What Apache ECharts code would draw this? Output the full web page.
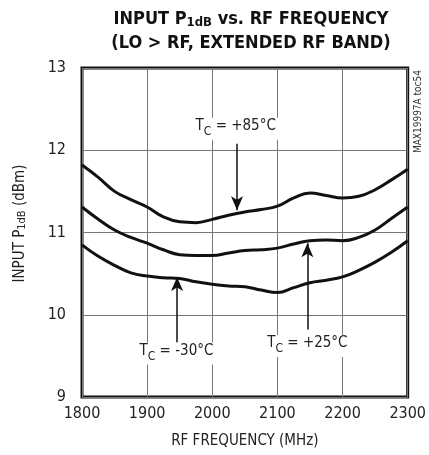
<!DOCTYPE html>
<html>
<head>
<meta charset="utf-8">
<script src="https://cdn.jsdelivr.net/npm/echarts@6/dist/echarts.min.js"></script>
<style>
  html, body { margin: 0; padding: 0; background: #fff; }
  #chart { width: 429px; height: 455px; }
</style>
</head>
<body>
<div id="chart"></div>
<script>
// 频率 (MHz)
const freqs = [1800, 1825, 1850, 1875, 1900, 1925, 1950, 1975, 2000, 2025, 2050,
  2075, 2100, 2125, 2150, 2175, 2200, 2225, 2250, 2275, 2300];

// P1dB (dBm) per case temperature
const p85 = [11.82, 11.67, 11.50, 11.40, 11.31, 11.19, 11.13, 11.12, 11.16, 11.21, 11.25,
  11.28, 11.32, 11.42, 11.48, 11.45, 11.42, 11.44, 11.52, 11.64, 11.77];
const p25 = [11.31, 11.16, 11.03, 10.94, 10.87, 10.79, 10.73, 10.72, 10.72, 10.75, 10.78,
  10.79, 10.81, 10.86, 10.90, 10.91, 10.90, 10.94, 11.03, 11.17, 11.31];
const pm30 = [10.85, 10.71, 10.60, 10.51, 10.47, 10.45, 10.44, 10.40, 10.37, 10.35, 10.34,
  10.30, 10.27, 10.33, 10.39, 10.42, 10.46, 10.54, 10.64, 10.76, 10.90];

// 标注: label text, arrow x, arrow tail/tip, label position
const labels = ['+85°C', '+25°C', '-30°C'];
const arrowFreq = [2038, 2146, 1946];
const arrowTail = [12.08, 9.82, 9.66];
const arrowTip = [11.27, 10.87, 10.46];
const labelFreq = [2036, 2146, 1945];
const labelVal = [12.26, 9.62, 9.53];

const FONT = '"DejaVu Sans Condensed", "Liberation Sans Narrow", "Liberation Sans", Arial, sans-serif';

const makeSeries = (vals, i) => ({
  type: 'line',
  data: freqs.map((f, k) => [f, vals[k]]),
  smooth: 0.45,
  showSymbol: false,
  lineStyle: { color: '#111', width: 3 },
  z: 3,
  markLine: {
    silent: true,
    symbol: ['none', 'arrow'],
    symbolSize: [9, 14],
    lineStyle: { color: '#111', width: 1.5, type: 'solid' },
    label: { show: false },
    data: [[{ coord: [arrowFreq[i], arrowTail[i]] }, { coord: [arrowFreq[i], arrowTip[i]] }]]
  },
  markPoint: {
    silent: true,
    symbol: 'rect',
    symbolSize: 1,
    itemStyle: { color: 'rgba(0,0,0,0)' },
    label: {
      show: true,
      position: 'inside',
      backgroundColor: '#fff',
      padding: [2, 3, 2, 3],
      formatter: '{t|T}{s|C}{t| = ' + labels[i] + '}',
      rich: {
        t: { fontFamily: FONT, fontSize: 15, color: '#222', verticalAlign: 'bottom', lineHeight: 18, padding: [0, 0, 4, 0] },
        s: { fontFamily: FONT, fontSize: 12, color: '#222', verticalAlign: 'bottom', lineHeight: 14 }
      }
    },
    data: [{ coord: [labelFreq[i], labelVal[i]] }]
  }
});

const chart = echarts.init(document.getElementById('chart'));
chart.setOption({
  animation: false,
  backgroundColor: '#fff',
  title: {
    text: '{b|INPUT P}{s|1dB}{b| vs. RF FREQUENCY}\n{b|(LO > RF, EXTENDED RF BAND)}',
    left: 246,
    top: 0,
    textAlign: 'center',
    textStyle: {
      rich: {
        b: { fontFamily: FONT, fontSize: 18, fontWeight: 'bold', color: '#111', lineHeight: 24, verticalAlign: 'bottom', padding: [0, 0, 1, 0] },
        s: { fontFamily: FONT, fontSize: 13, fontWeight: 'bold', color: '#111', lineHeight: 18, verticalAlign: 'bottom' }
      }
    }
  },
  grid: { left: 82, right: 18, top: 68, bottom: 58, show: true, borderColor: '#111', borderWidth: 3 },
  xAxis: {
    type: 'value',
    min: 1800,
    max: 2300,
    interval: 100,
    name: 'RF FREQUENCY (MHz)',
    nameLocation: 'middle',
    nameGap: 37,
    nameTextStyle: { fontFamily: FONT, fontSize: 15, color: '#222' },
    axisLine: { show: false },
    axisTick: { show: false },
    axisLabel: { fontFamily: FONT, fontSize: 16, color: '#222', margin: 9, formatter: v => String(v) },
    splitLine: { lineStyle: { color: '#777', width: 1 } }
  },
  yAxis: {
    type: 'value',
    min: 9,
    max: 13,
    interval: 1,
    name: 'INPUT P{s|1dB} (dBm)',
    nameLocation: 'middle',
    nameGap: 54,
    nameTextStyle: {
      fontFamily: FONT, fontSize: 15, color: '#222', padding: [0, 0, 0, 18],
      rich: { s: { fontFamily: FONT, fontSize: 11, color: '#222', verticalAlign: 'bottom' } }
    },
    axisLine: { show: false },
    axisTick: { show: false },
    axisLabel: { fontFamily: FONT, fontSize: 16, color: '#222', margin: 16 },
    splitLine: { lineStyle: { color: '#777', width: 1 } }
  },
  graphic: [{
    type: 'text',
    left: 413,
    top: 70,
    rotation: Math.PI / 2,
    style: { text: 'MAX19997A toc54', fontFamily: FONT, fontSize: 10, fill: '#333' }
  }],
  series: [makeSeries(p85, 0), makeSeries(p25, 1), makeSeries(pm30, 2)]
});
</script>
</body>
</html>
